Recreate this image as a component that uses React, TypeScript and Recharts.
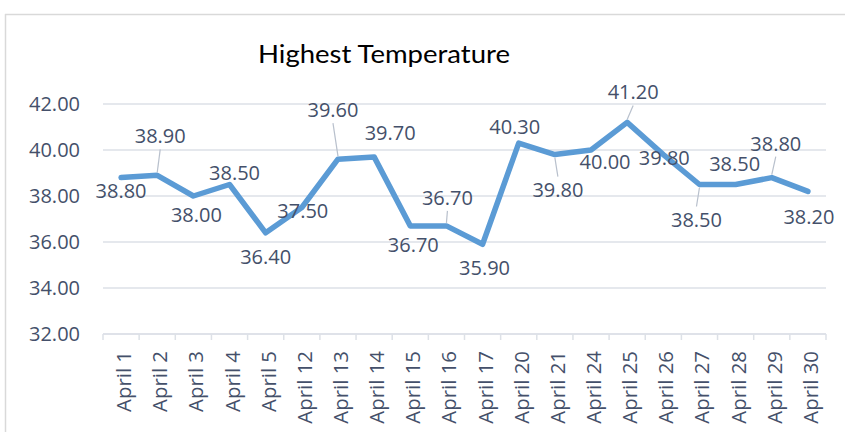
import React from "react";
import { LineChart, Line, XAxis, YAxis, CartesianGrid, LabelList } from "recharts";

const categories = [
  "April 1", "April 2", "April 3", "April 4", "April 5", "April 12", "April 13", "April 14",
  "April 15", "April 16", "April 17", "April 20", "April 21", "April 24", "April 25", "April 26",
  "April 27", "April 28", "April 29", "April 30",
];
const temperatures = [
  38.8, 38.9, 38.0, 38.5, 36.4, 37.5, 39.6, 39.7, 36.7, 36.7,
  35.9, 40.3, 39.8, 40.0, 41.2, 39.8, 38.5, 38.5, 38.8, 38.2,
];
const yTicks = [32, 34, 36, 38, 40, 42];
const title = "Highest Temperature";

// label placement (styling only): offset of label centre from its point, and whether a leader line is drawn
const labelDx = [0, 3, 3, 5, 0, 1, -5, 16, 3, 1, 2, -4, 3, 14, 6, 1, -3, -1, 4, 1];
const labelDy = [13, -39, 19, -12, 24, 3, -49, -24, 19, -28, 24, -16, 35, 12, -30, 3, 35, -21, -34, 26];
const leader = [false, true, false, false, false, false, true, false, false, true, false, false, true, false, true, false, true, false, true, false];

const data = categories.map((c, i) => ({ name: c, value: temperatures[i] }));

const W = 845;
const H = 432;
const M = { top: 104, right: 19, bottom: 0, left: 0 };
const Y_W = 103;
const X_H = 98;
const PLOT_W = W - M.left - M.right - Y_W;
const BW = PLOT_W / categories.length;
const TEXT = "#44506a";
const FONT = "'Open Sans', 'Noto Sans', sans-serif";
const GRID = "#dde1e7";

const XTick = (props: any) => {
  const { x, y, payload, index } = props;
  const ty = y + 17;
  const tx = x + 2;
  return (
    <g>
      <line x1={x - BW / 2} y1={y} x2={x - BW / 2} y2={y + 6} stroke={GRID} strokeWidth={1.5} />
      {index === categories.length - 1 && (
        <line x1={x + BW / 2} y1={y} x2={x + BW / 2} y2={y + 6} stroke={GRID} strokeWidth={1.5} />
      )}
      <text
        x={tx}
        y={ty}
        transform={`rotate(-90, ${tx}, ${ty})`}
        textAnchor="end"
        dominantBaseline="central"
        fontSize={20.4}
        fontFamily={FONT}
        fill={TEXT}
      >
        {payload.value}
      </text>
    </g>
  );
};

const YTick = (props: any) => {
  const { y, payload } = props;
  return (
    <text x={80} y={y + 7} textAnchor="end" fontSize={20} fontFamily={FONT} fill={TEXT}>
      {Number(payload.value).toFixed(2)}
    </text>
  );
};

const DataLabel = (props: any) => {
  const { x, y, value, index } = props;
  const cx = x + labelDx[index];
  const cy = y + labelDy[index];
  const above = labelDy[index] < 0;
  return (
    <g>
      {leader[index] && (
        <line
          x1={cx}
          y1={above ? cy + 13 : cy - 13}
          x2={x}
          y2={above ? y - 3 : y + 3}
          stroke="#b8c0cc"
          strokeWidth={1.2}
        />
      )}
      <text x={cx} y={cy + 7} textAnchor="middle" fontSize={20} fontFamily={FONT} fill={TEXT}>
        {Number(value).toFixed(2)}
      </text>
    </g>
  );
};

export default function App() {
  return (
    <div style={{ position: "absolute", left: 0, top: 0, width: W, height: H, background: "#fff" }}>
      <svg width={W} height={H} style={{ position: "absolute", left: 0, top: 0 }}>
        <line x1={5} y1={14.5} x2={W} y2={14.5} stroke="#d9d9d9" strokeWidth={1.5} />
        <line x1={5.5} y1={14} x2={5.5} y2={H} stroke="#d9d9d9" strokeWidth={1.5} />
        <text
          x={384}
          y={63}
          textAnchor="middle"
          fontSize={25}
          fontFamily="Lato, 'Open Sans', sans-serif"
          fill="#000"
          textLength={252}
          lengthAdjust="spacingAndGlyphs"
        >
          {title}
        </text>
      </svg>
      <div style={{ position: "absolute", left: 0, top: 0 }}>
        <LineChart width={W} height={H} data={data} margin={M}>
          <CartesianGrid horizontal={true} vertical={false} stroke={GRID} strokeWidth={1.5} />
          <XAxis
            dataKey="name"
            interval={0}
            height={X_H}
            padding={{ left: BW / 2, right: BW / 2 }}
            tickLine={false}
            tickSize={0}
            tickMargin={0}
            axisLine={{ stroke: GRID, strokeWidth: 1.5 }}
            tick={<XTick />}
          />
          <YAxis
            domain={[32, 42]}
            ticks={yTicks}
            width={Y_W}
            axisLine={false}
            tickLine={false}
            tick={<YTick />}
          />
          <Line
            type="linear"
            dataKey="value"
            stroke="#5b9bd5"
            strokeWidth={5.5}
            strokeLinejoin="round"
            strokeLinecap="round"
            dot={false}
            activeDot={false}
            isAnimationActive={false}
          >
            <LabelList dataKey="value" content={<DataLabel />} />
          </Line>
        </LineChart>
      </div>
    </div>
  );
}
